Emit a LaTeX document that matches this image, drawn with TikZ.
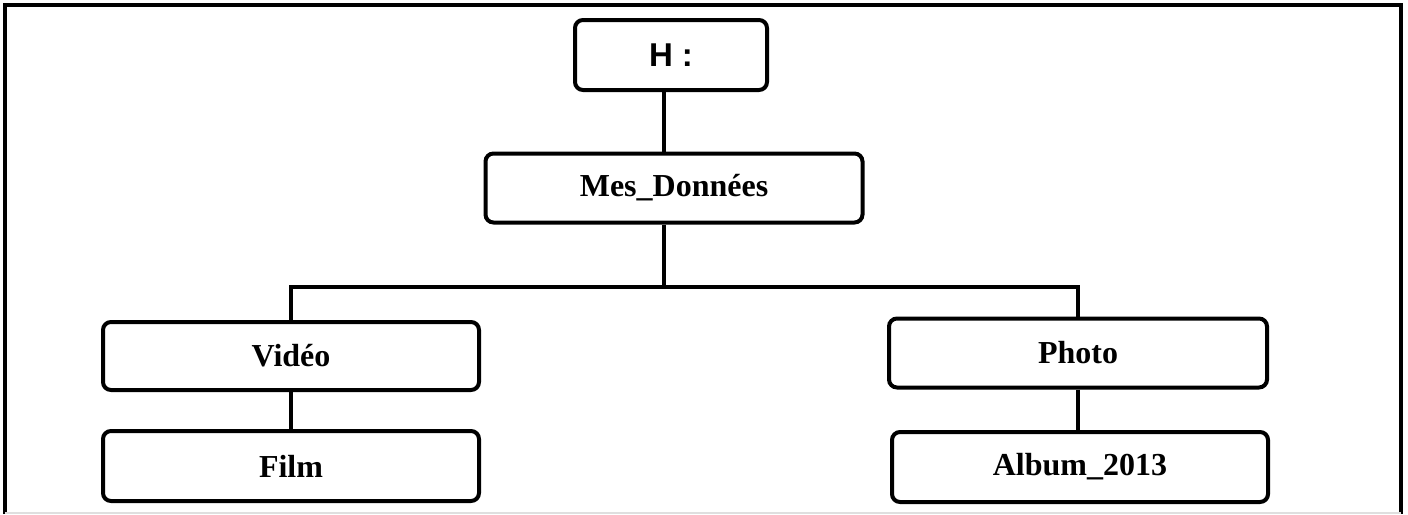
\documentclass[tikz,border=0pt]{standalone}
\usepackage{fontspec}
\setmainfont{Liberation Serif}
\newfontfamily\arialfont{Liberation Sans}
\usepackage{tikz}

\begin{document}
\begin{tikzpicture}[x=0.5pt,y=-0.5pt]
	\tikzset{box/.style = {shape=rectangle,draw,rounded corners=4pt,line width=2pt,minimum width=188pt,minimum height=34.5pt,font=\fontsize{16}{19}\selectfont\bfseries}}
	\tikzset{edge/.style = {-,line width=1.6pt}}
	\useasboundingbox (0,0) rectangle (1408,514);
	%frame
	\draw[line width=1.6pt] (5,514) -- (5,5) -- (1401,5) -- (1401,514);
	\draw[gray!25,line width=0.8pt] (5,513) -- (1401,513);
	\node[box,minimum width=96pt,minimum height=35pt,font=\arialfont\fontsize{16.5}{19}\selectfont\bfseries] (0) at (671,55) {H :};
	\node[box,minimum width=188.5pt] (1) at (674,188) {Mes\_Données};
	\node[box,minimum height=34pt] (2) at (291,356) {Vidéo};
	\node[box,minimum width=189pt] (3) at (1078,353) {Photo};
	\node[box,minimum height=35pt] (4) at (291,466) {Film};
	\node[box,minimum height=35pt] (5) at (1080,467) {Album\_2013};
	\coordinate (t) at (664,287);
	%edges
	\draw[edge] (t |- 0.south) -- (t |- 1.north);
	\draw[edge] (t |- 1.south) -- (t);
	\draw[edge] (2.north) |- (t) -| (3.north);
	\draw[edge] (2) -- (4);
	\draw[edge] (3.south) -- (3.south |- 5.north);
\end{tikzpicture}
\end{document}
